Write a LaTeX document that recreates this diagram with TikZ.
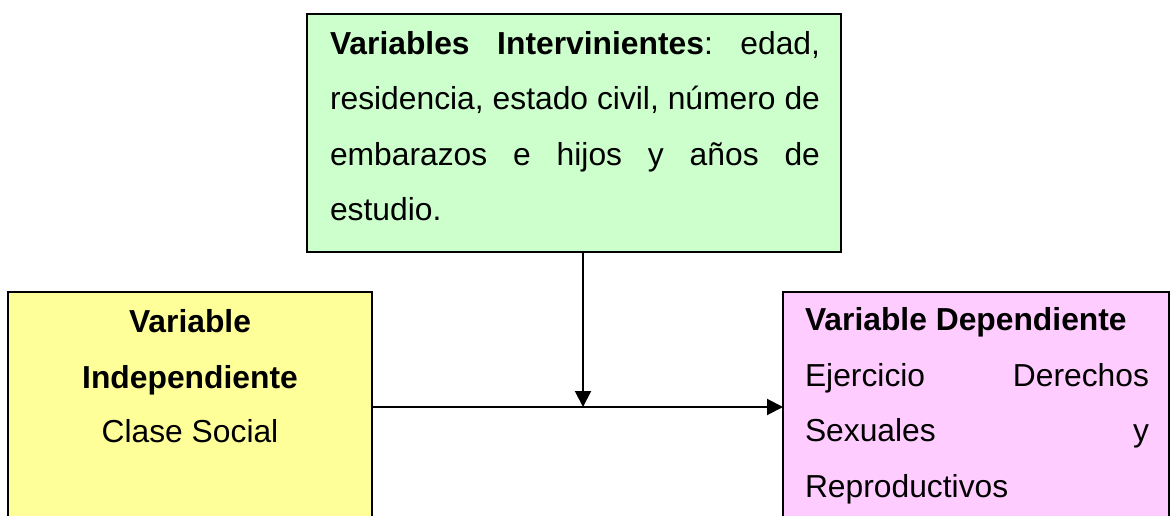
\documentclass[tikz,border=0pt]{standalone}
\usepackage{fontspec}
\setmainfont{Liberation Sans}
\usetikzlibrary{arrows.meta}
\definecolor{vgreen}{HTML}{CCFFCC}
\definecolor{vyellow}{HTML}{FFFF99}
\definecolor{vpink}{HTML}{FFCCFF}
\tikzset{
  varbox/.style={draw=black, line width=2pt, inner sep=0pt, outer sep=0pt, anchor=north west},
  txt/.style={inner sep=0pt, outer sep=0pt, anchor=base west, font=\fontsize{31.8}{40}\selectfont},
  ctxt/.style={inner sep=0pt, outer sep=0pt, anchor=base, font=\fontsize{31.8}{40}\selectfont},
  arr/.style={line width=2pt, -{Triangle[width=16pt,length=16pt]}}
}
\begin{document}
\begin{tikzpicture}[x=1pt, y=-1pt]
\useasboundingbox (0,0) rectangle (1170,516);
\clip (0,0) rectangle (1170,516);
% boxes
\node[varbox, fill=vgreen, minimum width=534pt, minimum height=238pt] (vi) at (307,14) {};
\node[varbox, fill=vyellow, minimum width=364pt, minimum height=230pt] (ind) at (8,292) {};
\node[varbox, fill=vpink, minimum width=386pt, minimum height=230pt] (dep) at (783,292) {};
% green text
\node[txt] (g1) at (330,55) {\makebox[490pt][s]{\textbf{Variables}\hfill\textbf{Intervinientes}:\hfill edad,}};
\node[txt] (g2) at (330,110) {\makebox[490pt][s]{residencia, estado civil, número de}};
\node[txt] (g3) at (330,165) {\makebox[490pt][s]{embarazos\hfill e\hfill hijos\hfill y\hfill años\hfill de}};
\node[txt] (g4) at (330,220) {estudio.};
% yellow text
\node[ctxt] (y1) at (190,332) {\textbf{Variable}};
\node[ctxt] (y2) at (190,388) {\textbf{Independiente}};
\node[ctxt] (y3) at (190,442) {Clase Social};
% pink text
\node[txt] (p1) at (805,330) {\textbf{Variable Dependiente}};
\node[txt] (p2) at (805,386) {\makebox[344pt][s]{Ejercicio\hfill Derechos}};
\node[txt] (p3) at (805,441) {\makebox[344pt][s]{Sexuales\hfill y}};
\node[txt] (p4) at (805,497) {Reproductivos};
% connectors
\coordinate (j) at (583,407);
\draw[arr] (ind.east) -- (dep.west);
\draw[arr] (vi.south -| j) -- (j);
\end{tikzpicture}
\end{document}
